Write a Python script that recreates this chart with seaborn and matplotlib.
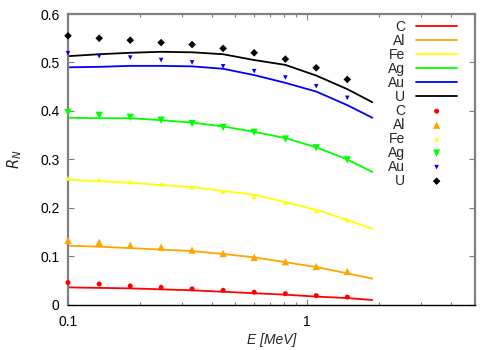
import numpy as np
import pandas as pd
import seaborn as sns
import matplotlib
matplotlib.use("Agg")
import matplotlib.pyplot as plt
from matplotlib.ticker import FixedLocator, NullFormatter, LogLocator

sns.set_style("ticks")
plt.rcParams['font.family'] = ['Liberation Sans', 'DejaVu Sans']

# energies of the data points and of the calculated curves (MeV)
e_pts = [0.1, 0.135, 0.182, 0.245, 0.33, 0.445, 0.6, 0.81, 1.09, 1.47]
e_line = [0.1, 0.135, 0.182, 0.245, 0.33, 0.445, 0.6, 0.81, 1.09, 1.47, 1.87]

elements = ['C', 'Al', 'Fe', 'Ag', 'Au', 'U']
colors = ['#ff0000', '#ffa500', '#ffff00', '#00ff00', '#0000ff', '#000000']

# calculated R_N curves
line_C = [0.036, 0.035, 0.034, 0.032, 0.030, 0.027, 0.024, 0.021, 0.017, 0.014, 0.010]
line_Al = [0.122, 0.120, 0.117, 0.114, 0.111, 0.105, 0.098, 0.088, 0.078, 0.065, 0.054]
line_Fe = [0.258, 0.255, 0.252, 0.247, 0.243, 0.235, 0.227, 0.212, 0.196, 0.175, 0.157]
line_Ag = [0.386, 0.385, 0.385, 0.381, 0.376, 0.368, 0.357, 0.344, 0.325, 0.300, 0.274]
line_Au = [0.490, 0.491, 0.493, 0.493, 0.492, 0.487, 0.474, 0.458, 0.440, 0.412, 0.386]
line_U = [0.513, 0.517, 0.520, 0.522, 0.521, 0.517, 0.505, 0.495, 0.473, 0.445, 0.418]

# measured R_N points
pts_C = [0.046, 0.043, 0.039, 0.036, 0.033, 0.030, 0.026, 0.023, 0.019, 0.016]
pts_Al = [0.133, 0.129, 0.123, 0.119, 0.113, 0.106, 0.098, 0.089, 0.079, 0.069]
pts_Fe = [0.261, 0.258, 0.254, 0.249, 0.243, 0.234, 0.223, 0.211, 0.194, 0.175]
pts_Ag = [0.397, 0.391, 0.387, 0.381, 0.374, 0.366, 0.356, 0.342, 0.324, 0.299]
pts_Au = [0.519, 0.513, 0.510, 0.505, 0.500, 0.492, 0.482, 0.469, 0.451, 0.427]
pts_U = [0.555, 0.550, 0.546, 0.541, 0.537, 0.529, 0.520, 0.507, 0.489, 0.465]

lines = [line_C, line_Al, line_Fe, line_Ag, line_Au, line_U]
points = [pts_C, pts_Al, pts_Fe, pts_Ag, pts_Au, pts_U]
markers = ['o', '^', '^', 'v', 'v', 'D']
msizes = [13, 28, 12, 28, 11, 15]

fig = plt.figure(figsize=(5, 3.5), dpi=100)
ax = fig.add_axes([0.136, 0.129, 0.813, 0.831])

for el, c, y in zip(elements, colors, lines):
    sns.lineplot(ax=ax, x=e_line, y=y, color=c, lw=1.3, label=el)

for el, c, y, m, s in zip(elements, colors, points, markers, msizes):
    sns.scatterplot(ax=ax, x=e_pts, y=y, color=c, marker=m, s=s,
                    edgecolor='none', label=el, clip_on=False, zorder=3)

ax.set_xscale('log')
ax.set_xlim(0.1, 5)
ax.set_ylim(0, 0.6)
ax.set_yticks([0, 0.1, 0.2, 0.3, 0.4, 0.5, 0.6])
ax.set_yticklabels(['0', '0.1', '0.2', '0.3', '0.4', '0.5', '0.6'])
ax.xaxis.set_major_locator(FixedLocator([0.1, 1]))
ax.set_xticklabels(['0.1', '1'])
ax.xaxis.set_minor_locator(LogLocator(base=10, subs=np.arange(2, 10)))
ax.xaxis.set_minor_formatter(NullFormatter())

ax.tick_params(which='both', direction='in', top=True, right=True,
               colors='#808080', labelcolor='black', labelsize=10)
ax.tick_params(which='major', length=4, width=0.8, pad=6)
ax.tick_params(axis='x', which='major', pad=7)
ax.tick_params(which='minor', length=2.5, width=0.8)

for side in ['left', 'top', 'right']:
    ax.spines[side].set_color('#808080')
    ax.spines[side].set_linewidth(1.6)
ax.spines['bottom'].set_color('black')
ax.spines['bottom'].set_linewidth(1.0)

ax.set_xlabel('E [MeV]', fontstyle='italic', fontsize=10, labelpad=3)
ax.set_ylabel('$R_N$', fontsize=10.5, labelpad=12)

leg = ax.legend(loc='upper right', bbox_to_anchor=(0.958, 0.98),
                markerfirst=False, frameon=False, fontsize=10,
                labelspacing=0.0, handlelength=3.0, handletextpad=0.75,
                borderpad=0, borderaxespad=0)

fig.savefig('out.png', dpi=100)
